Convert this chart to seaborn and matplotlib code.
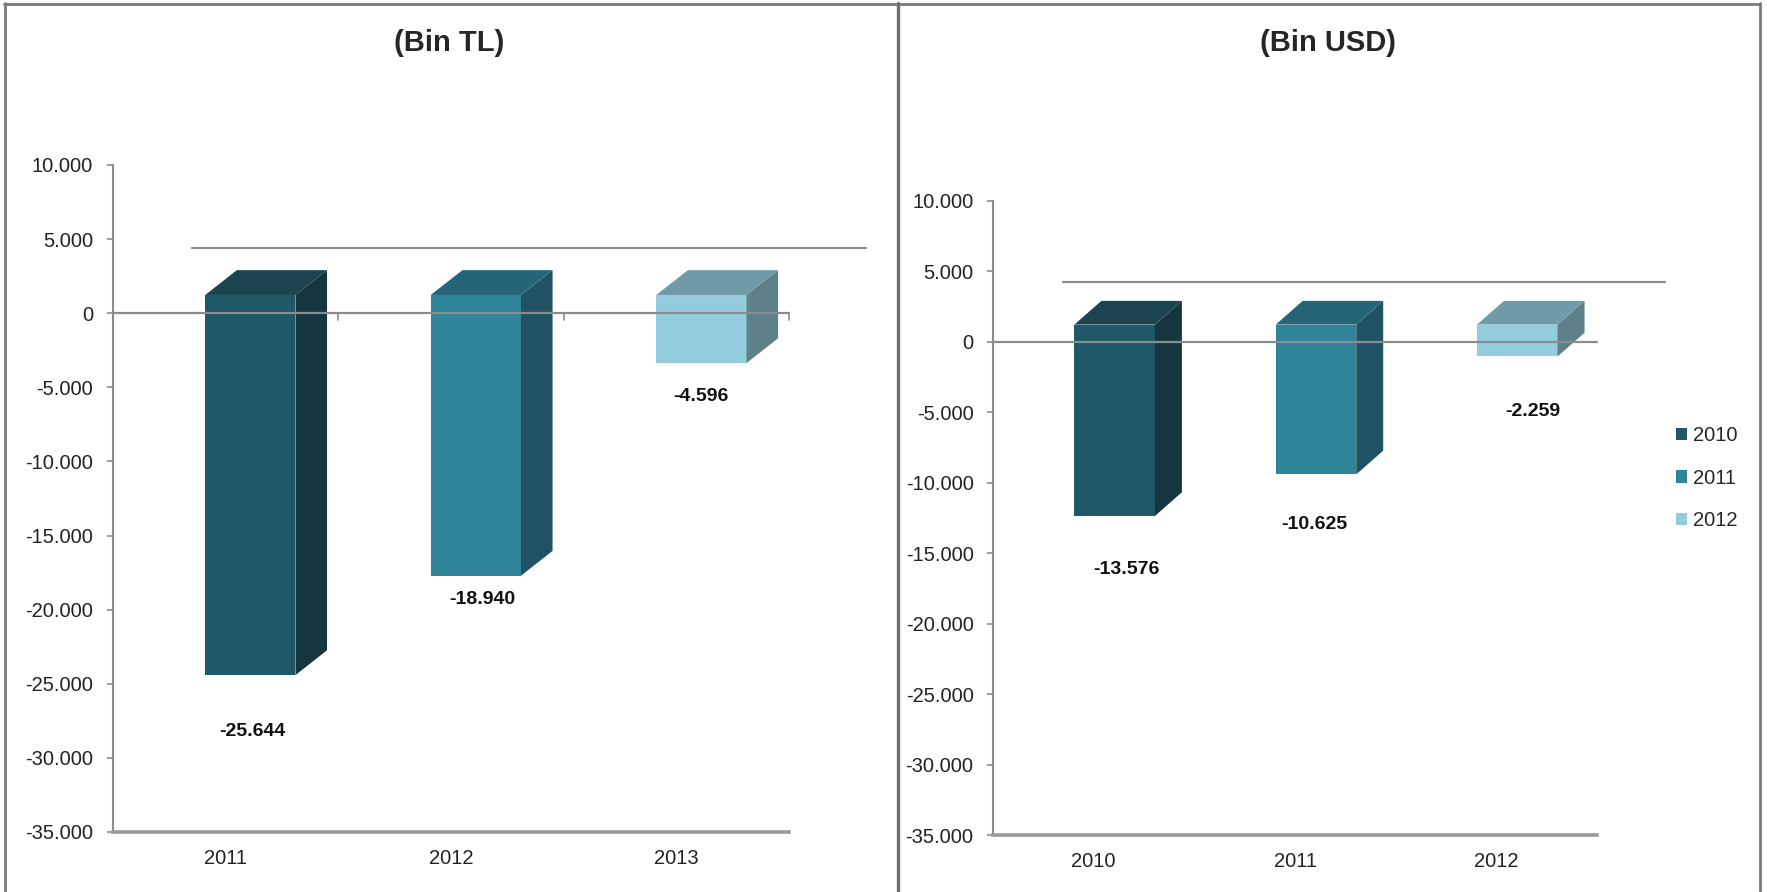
import matplotlib
matplotlib.use("Agg")
import matplotlib.pyplot as plt
from matplotlib.patches import Polygon
from matplotlib.lines import Line2D
from matplotlib.ticker import FuncFormatter, MultipleLocator
import seaborn as sns

# data
tl_years = ["2011", "2012", "2013"]
tl_values = [-25644, -18940, -4596]
usd_years = ["2010", "2011", "2012"]
usd_values = [-13576, -10625, -2259]

FRONT = ["#1F5866", "#2F8499", "#92CCDD"]
SIDE = ["#15363F", "#1F5262", "#5E8089"]
TOP = ["#1B444E", "#246677", "#6E9BA7"]
GRAY = "#8c8c8c"

sns.set_style("white")
plt.rcParams["font.family"] = ["Liberation Sans", "DejaVu Sans"]


def dotted(v):
    return f"{int(v):,}".replace(",", ".")


def draw_panel(ax, years, values, shift, lift, dx, dy, label_off, back_line, ticks_on_zero, legend):
    sns.barplot(x=years, y=values, hue=years, palette=dict(zip(years, FRONT)),
                width=0.4, saturation=1, linewidth=0, ax=ax, legend=legend)
    # only the real bars (legend proxies are left alone)
    bars = sorted([b for c in ax.containers for b in c], key=lambda p: p.get_x())
    for p, c_side, c_top in zip(bars, SIDE, TOP):
        p.set_x(p.get_x() + shift)
        p.set_y(lift)
        x0 = p.get_x()
        x1 = x0 + p.get_width()
        y0 = lift
        yb = lift + p.get_height()
        ax.add_patch(Polygon([(x1, y0), (x1 + dx, y0 + dy), (x1 + dx, yb + dy), (x1, yb)],
                             closed=True, facecolor=c_side, edgecolor="none", zorder=2))
        ax.add_patch(Polygon([(x0, y0), (x1, y0), (x1 + dx, y0 + dy), (x0 + dx, y0 + dy)],
                             closed=True, facecolor=c_top, edgecolor="none", zorder=2))

    # zero line over the bars, back wall line
    ax.plot([-0.5, 2.5], [0, 0], color=GRAY, lw=1.6, zorder=4, clip_on=False)
    if ticks_on_zero:
        for xt in [0.5, 1.5, 2.5]:
            ax.plot([xt, xt], [0, -450], color=GRAY, lw=1.2, zorder=4, clip_on=False)
    ax.plot(back_line[0], back_line[1], color=GRAY, lw=1.6, zorder=4, clip_on=False)

    for i, v in enumerate(values):
        ax.text(i + label_off[i][0], v + label_off[i][1], dotted(v), ha="center", va="center",
                fontsize=14, fontweight="bold", color="#111111", zorder=5)

    ax.set_xlim(-0.5, 2.5)
    ax.set_ylim(-35000, 10000)
    ax.yaxis.set_major_locator(MultipleLocator(5000))
    ax.yaxis.set_major_formatter(FuncFormatter(lambda y, pos: dotted(y)))
    ax.set_xlabel("")
    ax.set_ylabel("")
    for s in ["top", "right"]:
        ax.spines[s].set_visible(False)
    ax.spines["left"].set_color(GRAY)
    ax.spines["left"].set_linewidth(1.5)
    ax.spines["bottom"].set_color("#999999")
    ax.spines["bottom"].set_linewidth(2.6)
    ax.tick_params(axis="y", direction="out", length=4, width=1.2, color=GRAY,
                   pad=10, labelsize=14.5, labelcolor="#222222", left=True)
    ax.tick_params(axis="x", length=0, pad=12, labelsize=14.5, labelcolor="#222222")
    ax.grid(False)


fig = plt.figure(figsize=(17.67, 8.92), dpi=100)
ax_tl = fig.add_axes([0.0637, 0.0673, 0.3829, 0.7478])
ax_usd = fig.add_axes([0.5620, 0.0639, 0.3418, 0.7112])

draw_panel(ax_tl, tl_years, tl_values, shift=0.111, lift=1228, dx=0.14, dy=1673,
           label_off=[(0.122, -2592), (0.140, -398), (0.110, -1051)],
           back_line=([-0.149, 2.839], [4420, 4420]), ticks_on_zero=True, legend=False)
draw_panel(ax_usd, usd_years, usd_values, shift=0.104, lift=1206, dx=0.134, dy=1681,
           label_off=[(0.161, -2581), (0.095, -2340), (0.183, -2692)],
           back_line=([-0.153, 2.836], [4241, 4241]), ticks_on_zero=False, legend=True)

sns.move_legend(ax_usd, loc="center left", bbox_to_anchor=(0.9485, 0.464),
                bbox_transform=fig.transFigure, frameon=False, fontsize=14.5,
                handlelength=0.55, handleheight=0.55, handletextpad=0.3,
                labelspacing=1.15, borderpad=0, borderaxespad=0, title=None)

fig.text(0.2544, 0.952, "(Bin TL)", ha="center", va="center", fontsize=21, fontweight="bold")
fig.text(0.7513, 0.952, "(Bin USD)", ha="center", va="center", fontsize=21, fontweight="bold")

# panel frames
W, H = 1767, 892
def fline(xs, ys, lw=2.0, color="#7a7a7a"):
    fig.add_artist(Line2D([x / W for x in xs], [1 - y / H for y in ys],
                          transform=fig.transFigure, color=color, lw=lw))

fline([4, 1760], [3.5, 3.5])
fline([4.5, 4.5], [3, 892])
fline([898, 898], [3, 892], lw=2.4, color="#6e6e6e")
fline([1759.5, 1759.5], [3, 892])

fig.savefig("out.png", dpi=100)
